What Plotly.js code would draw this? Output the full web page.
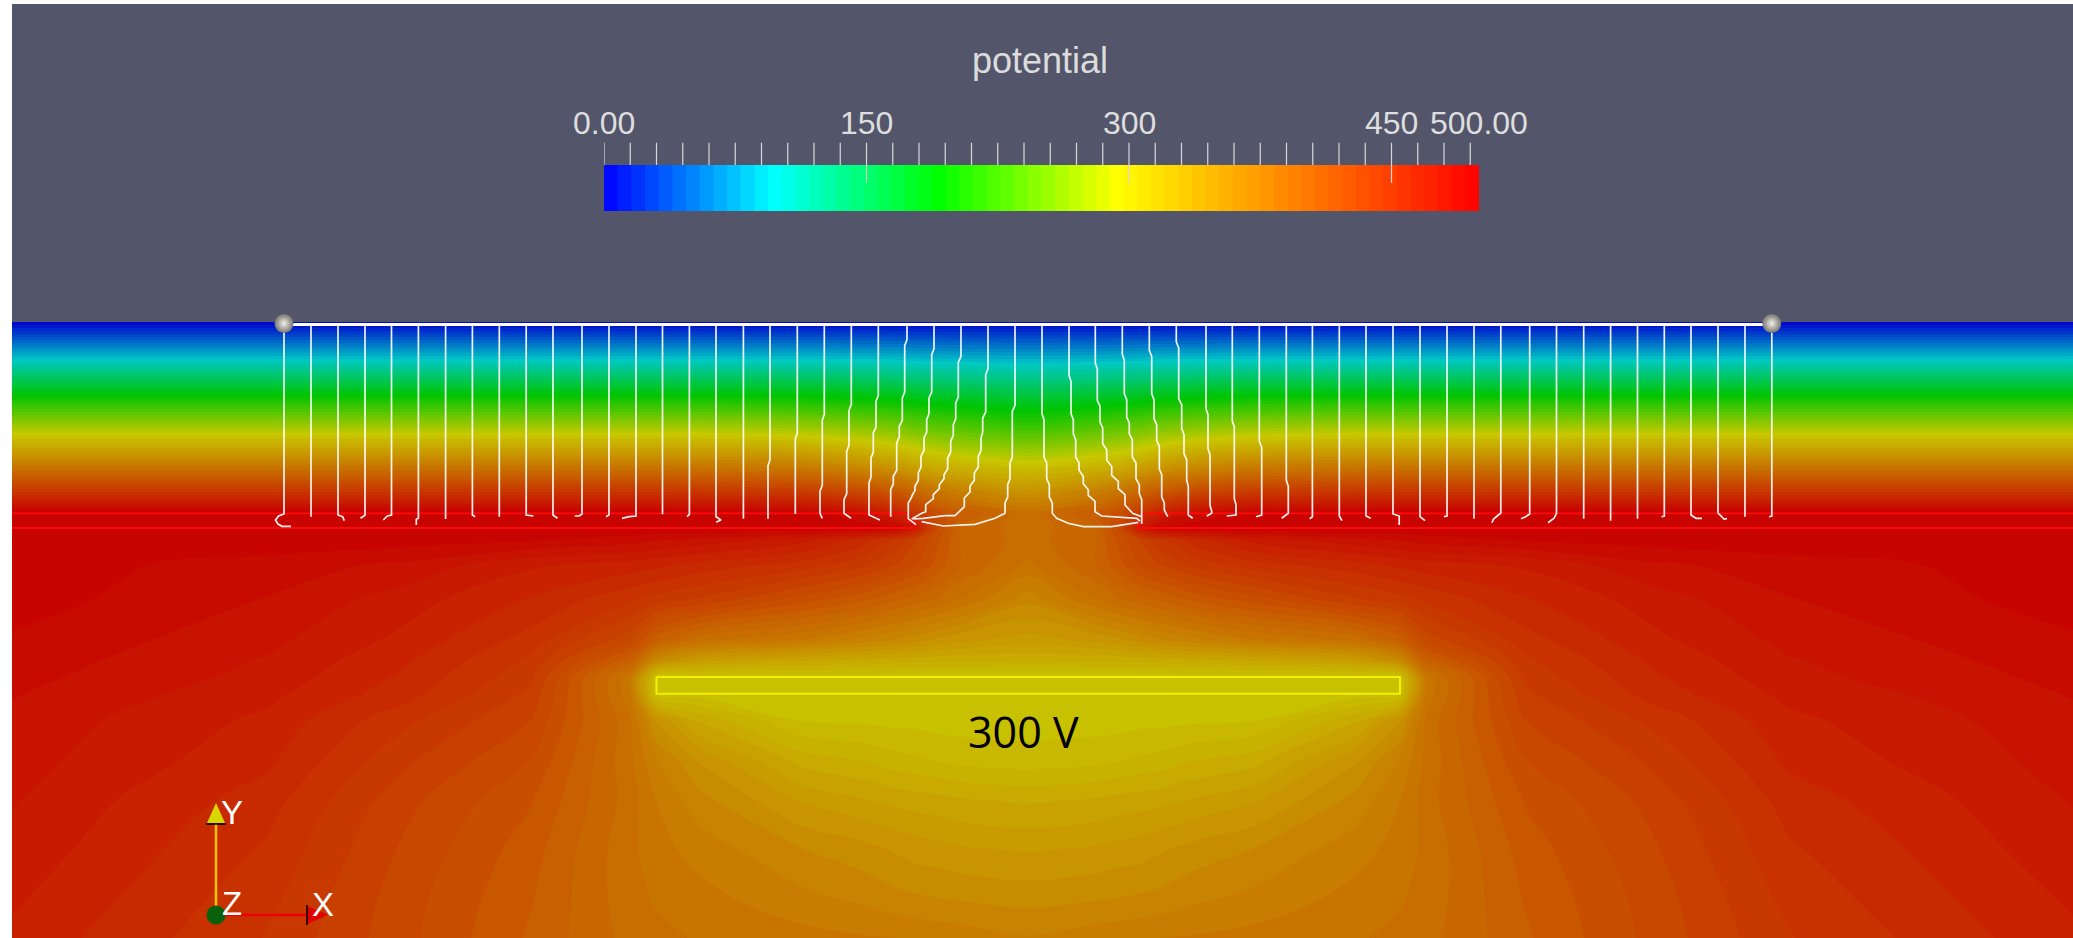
<!DOCTYPE html>
<html>
<head>
<meta charset="utf-8">
<script src="https://cdn.plot.ly/plotly-3.0.1.min.js"></script>
<style>html,body{margin:0;padding:0;background:#fff;overflow:hidden}#chart{width:2073px;height:938px}</style>
</head>
<body>
<div id="chart"></div>
<script>
// Potential field. Grid nodes in image units.
const gridX = [12,265,400,530,630,656,700,800,860,900,917,935,960,1028,1096,1121,1139,1156,1196,1256,1356,1400,1426,1526,1656,1791,2073];
const gridY = [322,360,397,433,470,490,513,528,540,565,600,640,660,677,694,720,760,800,850,900,938];
const potential = [
[0,0,0,0,0,0,0,0,0,0,0,0,0,0,0,0,0,0,0,0,0,0,0,0,0,0,0],
[97,97,97,97,97,97,97,97,96,94,92,91,90,88,90,91,92,94,96,97,97,97,97,97,97,97,97],
[195,195,195,195,195,195,195,193,188,183,178,175,172,165,172,175,178,183,188,193,195,195,195,195,195,195,195],
[290,290,290,290,290,290,290,285,275,265,258,252,245,232,245,252,258,265,275,285,290,290,290,290,290,290,290],
[387,387,387,387,387,387,386,380,365,350,340,330,322,310,322,330,340,350,365,380,386,387,387,387,387,387,387],
[440,440,440,440,440,440,439,434,420,402,390,378,365,345,365,378,390,402,420,434,439,440,440,440,440,440,440],
[500,500,500,500,500,500,499,496,485,462,440,420,405,385,405,420,440,462,485,496,499,500,500,500,500,500,500],
[500,500,500,500,500,500,500,499,497,490,470,425,398,386,398,425,470,490,497,499,500,500,500,500,500,500,500],
[500,499,496,493,488,485,482,472,458,442,430,418,398,387,398,418,430,442,458,472,482,485,488,493,496,499,500],
[497,488,483,470,465,463,458,450,440,428,422,412,398,381,398,412,422,428,440,450,458,463,465,470,483,488,497],
[496,484,473,460,447,442,436,418,408,398,394,390,382,362,382,390,394,398,408,418,436,442,447,460,473,484,496],
[491,479,467,450,425,402,385,375,365,358,354,350,346,340,346,350,354,358,365,375,385,402,425,450,467,479,491],
[489,476,463,444,402,360,340,330,327,325,324,323,323,322,323,323,324,325,327,330,340,360,402,444,463,476,489],
[487,474,460,440,378,303,301,300,300,300,300,300,300,300,300,300,300,300,300,300,301,303,378,440,460,474,487],
[485,471,457,436,378,303,301,300,300,300,300,300,300,300,300,300,300,300,300,300,301,303,378,436,457,471,485],
[482,467,448,430,385,350,326,304,303,302,302,301,301,301,301,301,302,302,303,304,326,350,385,430,448,467,482],
[480,463,440,422,385,368,350,325,320,315,314,312,310,308,310,312,314,315,320,325,350,368,385,422,440,463,480],
[477,457,433,415,387,375,362,343,337,333,332,331,329,327,329,331,332,333,337,343,362,375,387,415,433,457,477],
[474,452,429,410,385,378,372,360,355,350,348,347,345,343,345,347,348,350,355,360,372,378,385,410,429,452,474],
[470,448,426,407,386,382,378,370,366,362,361,360,359,357,359,360,361,362,366,370,378,382,386,407,426,448,470],
[467,445,425,405,388,385,382,378,376,375,374,373,372,368,372,373,374,375,376,378,382,385,388,405,425,445,467]
];
// Field lines, each as x,y,x,y...
const topY = 324.5;
const streamlines = [
[284,topY,284,514,278.6,516,275.5,520,278,524,282,526.3,291,526.3],
[311,topY,311,516.7],
[338,topY,338,515,342.6,516.7,344.3,520.7],
[365,topY,365,515.3,360.5,518.3],
[391.5,topY,391.5,515,387.4,516,383.2,520],
[418.4,topY,418.4,518.3,416.3,519.3,416.3,525],
[445.6,topY,445.6,519],
[472.4,topY,472.4,515,475.2,516.7],
[499.3,topY,499.3,516.7],
[526.2,topY,526.2,515,533.4,516],
[553,topY,553,515,557.5,518.3],
[582,topY,582,514,579.2,516,574.7,516],
[609,topY,609,515,606,516.7],
[636,topY,636,516,629,516.7,622,518.3],
[662.5,topY,662.5,514.3],
[689.4,topY,689.4,514.3,687,516.7],
[716,topY,716,516.7,721,520,716,522.3],
[743.4,topY,743.4,518.7],
[770,topY,770,462.7,768,462.7,768,518.7],
[797.3,topY,797.3,436,795.3,436,795.3,514],
[824.3,topY,824.3,417.3,822.3,417.3,822.3,488.3,820,488.3,820,513.3,822.3,518.3],
[851.3,topY,851.3,407.3,849,407.3,849,448.3,846.7,448.3,846.7,496.7,844,496.7,844,513.3,851,518.3],
[878.3,topY,878.3,398.3,876,398.3,876,430,873.3,430,873.3,455,871,455,871,480,869,480,869,515,880,520],
[907,topY,907,342.7,904.7,342.7,904.7,395,902.3,395,902.3,423.3,899.3,423.3,899.3,440,896.7,440,896.7,473.3,893.3,473.3,893.3,486.7,890.7,486.7,890.7,516.7],
[934,topY,934,351.7,931.7,351.7,931.7,395,929,395,929,416.7,926.7,416.7,926.7,435,924,435,924,453.3,921,453.3,921,470,918.3,470,918.3,483.3,915,483.3,915,493.3,911.7,493.3,911.7,500,908.3,500,908.3,521.7,916,521.7],
[961,topY,961,359.3,958.3,359.3,958.3,400,955.7,400,955.7,421.7,953.3,421.7,953.3,438.3,950.7,438.3,950.7,455,947.7,455,947.7,471.7,944,471.7,944,481.7,939.3,481.7,939.3,491.7,933.3,491.7,933.3,501.7,925.7,501.7,925.7,511.7,921.7,513.3,915,516.7,911.7,519],
[988,topY,988,371.7,985.7,371.7,985.7,415,982.7,415,982.7,435,981,435,981,453.3,978.3,453.3,978.3,470,974.3,470,974.3,483.3,970,483.3,970,495,964.3,495,964.3,506.7,955,515.7,945,515.7,923.3,518.3,913.3,519],
[1015,topY,1015,408.3,1012.3,408.3,1012.3,460,1010,460,1010,481.7,1007.7,481.7,1007.7,500,1005,500,1005,513.3,995,518.3,986.7,521,975,524.3,943.3,526,931.7,523.3,921.7,521.7],
[1042,topY,1042,416.7,1044,416.7,1044,460,1046.7,460,1046.7,481.7,1049.3,481.7,1049.3,500,1052.3,500,1052.3,513.3,1056.7,518.3,1068.3,523.3,1083.3,526.7,1111.7,526.7,1138.3,522.3],
[1069,topY,1069,378.3,1071,378.3,1071,416.7,1073.3,416.7,1073.3,436.7,1075.7,436.7,1075.7,460,1079,460,1079,473.3,1083.3,473.3,1083.3,486.7,1088.3,486.7,1088.3,498.3,1095,498.3,1095,511.7,1101.7,516,1110,516.7,1136.7,518.3,1140,521],
[1095.3,topY,1095.3,366,1097.3,366,1097.3,403.3,1100,403.3,1100,425,1102.7,425,1102.7,446.7,1106.7,446.7,1106.7,463.3,1111.7,463.3,1111.7,478.3,1118.3,478.3,1118.3,491.7,1125,491.7,1125,505,1132.7,513.3,1141.7,516.7],
[1122.3,topY,1122.3,357.3,1124.3,357.3,1124.3,396.7,1126.7,396.7,1126.7,420,1129.3,420,1129.3,436.7,1132.3,436.7,1132.3,460,1136,460,1136,481.7,1139.3,481.7,1139.3,496.7,1141.7,496.7,1141.7,524],
[1149.3,topY,1149.3,353.3,1151.7,353.3,1151.7,396.7,1154,396.7,1154,421.7,1156.7,421.7,1156.7,443.3,1159.3,443.3,1159.3,471.7,1161.7,471.7,1161.7,500,1164.3,500,1164.3,510,1167.7,516.7],
[1176.3,topY,1176.3,345,1178.7,345,1178.7,401.7,1181.7,401.7,1181.7,431.7,1184,431.7,1184,456.7,1186.7,456.7,1186.7,483.3,1188.3,483.3,1188.3,515,1192.7,518.3],
[1206,topY,1206,411.7,1208,411.7,1208,451.7,1210,451.7,1210,508.3,1211.7,508.3,1211.7,513.3,1206.7,516],
[1232.3,topY,1232.3,424,1234.3,424,1234.3,501.7,1236,501.7,1236,515,1226.7,516],
[1259.3,topY,1259.3,444.3,1261.7,444.3,1261.7,515,1256,516.7],
[1286.3,topY,1286.3,483.3,1288.3,483.3,1288.3,513.3,1281.7,518.3],
[1312.4,topY,1312.4,516.7,1309.6,518.7],
[1339.3,topY,1339.3,516,1342,520.7],
[1366,topY,1366,516,1370.6,518.3],
[1393,topY,1393,514,1399.2,516,1399.2,525],
[1420,topY,1420,516.7,1425,520.7],
[1447,topY,1447,516,1444,516.7],
[1474,topY,1474,518.7],
[1500.8,topY,1500.8,516,1493.5,516,1492,522.7],
[1529.7,topY,1529.7,514,1525.6,516.7,1521,518.7],
[1556.5,topY,1556.5,513.3,1554,518.3,1548,522.7],
[1583.7,topY,1583.7,518.7],
[1610.6,topY,1610.6,520.7],
[1637.5,topY,1637.5,518.7],
[1664.3,topY,1664.3,516,1661.6,516.7],
[1691,topY,1691,515,1696,518.3,1702,518.3],
[1718,topY,1718,516,1724,516,1727,518.7],
[1745,topY,1745,516.7],
[1771.8,topY,1771.8,516,1769,516.7]
];
const seedLineX = [284,1771.8];
const seedLineY = [topY,topY];
const seedY = [323.5,323.5];
const layerLeftX = [12,908,908,916,916,12];
const layerLeftY = [513.3,513.3,522,522,528,528];
const layerRightX = [2073,1142,1142,1138,1138,2073];
const layerRightY = [513.3,513.3,522,524,528,528];
const electrodeX = [656.5,1400,1400,656.5,656.5];
const electrodeY = [677,677,693.7,693.7,677];
const electrodeLabel = '300 V';
// Colour key
const titleText = 'potential';
const scaleLabelVals = [0,150,300,450,500];
const scaleLabelText = ['0.00','150','300','450','500.00'];
const minorTicks = [0,15,30,45,60,75,90,105,120,135,165,180,195,210,225,240,255,270,285,315,330,345,360,375,390,405,420,435,465,480,495];
const majorTicks = [150,300,450];
// Orientation triad
const triadY = {x:[216,216],y:[915,824]};
const triadX = {x:[216,307],y:[915,915]};
const coneY = {x:[207,216,225,207],y:[823,803,823,823]};
const coneX = {x:[307,328,307,307],y:[906,915,924,906]};
const baseY = {x:[206,226],y:[824,824]};
const baseX = {x:[307,307],y:[905,925]};
const triadLetters = [['Y',232,812],['Z',232,903],['X',323,904]];

const fieldScale = [[0,'rgb(0,0,205)'],[0.194,'rgb(0,200,195)'],[0.382,'rgb(0,197,0)'],[0.587,'rgb(200,200,0)'],[1,'rgb(200,0,0)']];
const keyScale = [[0,'rgb(0,0,255)'],[0.194,'rgb(0,255,255)'],[0.382,'rgb(0,255,0)'],[0.587,'rgb(255,255,0)'],[1,'rgb(255,0,0)']];
const bands = {start:0,end:500,size:7.8125,coloring:'fill',showlines:false};

const sx = [], sy = [];
streamlines.forEach(l => {
  for (let i = 0; i < l.length; i += 2) {
    let y = l[i+1];
    // soften the small stair steps of the traced lines
    const stepStart = i+3 < l.length && i >= 2 && l[i+3] === y && Math.abs(l[i+2]-l[i]) <= 8 && l[i-2] === l[i];
    const stepEnd = i >= 4 && l[i-1] === y && Math.abs(l[i-2]-l[i]) <= 8 && l[i-4] === l[i-2];
    if (stepStart) y -= 3;
    else if (stepEnd) y += 3;
    sx.push(l[i]); sy.push(y);
  }
  sx.push(null); sy.push(null);
});
const tickX = [], tickY = [];
minorTicks.forEach(v => { tickX.push(v,v,null); tickY.push(1.0,1.485,null); });
majorTicks.forEach(v => { tickX.push(v,v,null); tickY.push(0.61,1.485,null); });

const line = (d,color,width,extra) => Object.assign({type:'scatter',mode:'lines',x:d.x,y:d.y,line:{color,width},hoverinfo:'skip',cliponaxis:false,showlegend:false},extra||{});

const traces = [
  {type:'contour',x:gridX,y:gridY,z:potential,zmin:0,zmax:500,autocontour:false,contours:bands,colorscale:fieldScale,line:{width:0},showscale:false,hoverinfo:'skip',connectgaps:true},
  line({x:layerLeftX,y:layerLeftY},'#ff0a0a',1.8),
  line({x:layerRightX,y:layerRightY},'#ff0a0a',1.8),
  line({x:electrodeX,y:electrodeY},'#f6f000',2),
  line({x:sx,y:sy},'rgba(255,255,255,0.93)',1.7),
  line({x:seedLineX,y:seedLineY},'#ffffff',3),
  {type:'scatter',mode:'markers',x:seedLineX,y:seedY,cliponaxis:false,hoverinfo:'skip',showlegend:false,
   marker:{size:19,color:'#77756f',gradient:{type:'radial',color:'#f0efe8'},line:{width:0}}},
  line(triadY,'#f5c400',2.5),
  line(triadX,'#f00000',2.5),
  line(coneY,'#000',0,{fill:'toself',fillcolor:'#d8d800',mode:'lines',line:{width:0,color:'#d8d800'}}),
  line(coneX,'#000',0,{fill:'toself',fillcolor:'#e00000',mode:'lines',line:{width:0,color:'#e00000'}}),
  line(baseY,'#000',1.5),
  line(baseX,'#000',1.5),
  {type:'scatter',mode:'markers',x:[triadX.x[0]],y:[triadX.y[0]],marker:{size:19,color:'#0b600b',line:{width:0}},hoverinfo:'skip',showlegend:false,cliponaxis:false},
  {type:'contour',xaxis:'x2',yaxis:'y2',x:[0,500],y:[0,1],z:[[0,500],[0,500]],zmin:0,zmax:500,autocontour:false,contours:bands,colorscale:keyScale,line:{width:0},showscale:false,hoverinfo:'skip'},
  {type:'scatter',mode:'lines',xaxis:'x2',yaxis:'y2',x:tickX,y:tickY,line:{color:'#d8d8d8',width:1.2},cliponaxis:false,hoverinfo:'skip',showlegend:false}
];

const W = 2073, H = 938;
const anns = [
  {xref:'paper',yref:'paper',x:1040/W,y:1-60/H,text:titleText,showarrow:false,font:{family:'Liberation Sans',size:36,color:'#dcdcdc'},xanchor:'center',yanchor:'middle'},
  {xref:'x',yref:'y',x:1023,y:731,text:electrodeLabel,showarrow:false,font:{family:'Open Sans',size:43,color:'#000'},xanchor:'center',yanchor:'middle'}
];
scaleLabelVals.forEach((v,i) => anns.push({xref:'x2',yref:'y2',x:v,y:1.913,text:scaleLabelText[i],showarrow:false,font:{family:'Liberation Sans',size:32,color:'#dedede'},xanchor:'center',yanchor:'middle'}));
triadLetters.forEach(t => anns.push({xref:'x',yref:'y',x:t[1],y:t[2],text:t[0],showarrow:false,font:{family:'Liberation Sans',size:33,color:'#fff'},xanchor:'center',yanchor:'middle'}));

const hidden = {visible:false,fixedrange:true};
Plotly.newPlot('chart',traces,{
  width:W,height:H,margin:{l:0,r:0,t:0,b:0,pad:0},showlegend:false,
  paper_bgcolor:'#ffffff',plot_bgcolor:'rgba(0,0,0,0)',
  xaxis:Object.assign({},hidden,{domain:[12/W,1],range:[12,2073]}),
  yaxis:Object.assign({},hidden,{domain:[0,(938-322)/H],range:[938,322]}),
  xaxis2:Object.assign({},hidden,{domain:[604/W,1479/W],range:[0,500],anchor:'y2'}),
  yaxis2:Object.assign({},hidden,{domain:[(938-211)/H,(938-95)/H],range:[0,116/46],anchor:'x2'}),
  shapes:[{type:'rect',layer:'below',xref:'paper',yref:'paper',x0:12/W,x1:1,y0:(938-322)/H,y1:(938-4)/H,fillcolor:'#53566b',line:{width:0}}],
  annotations:anns
},{displayModeBar:false,staticPlot:true});
</script>
</body>
</html>
